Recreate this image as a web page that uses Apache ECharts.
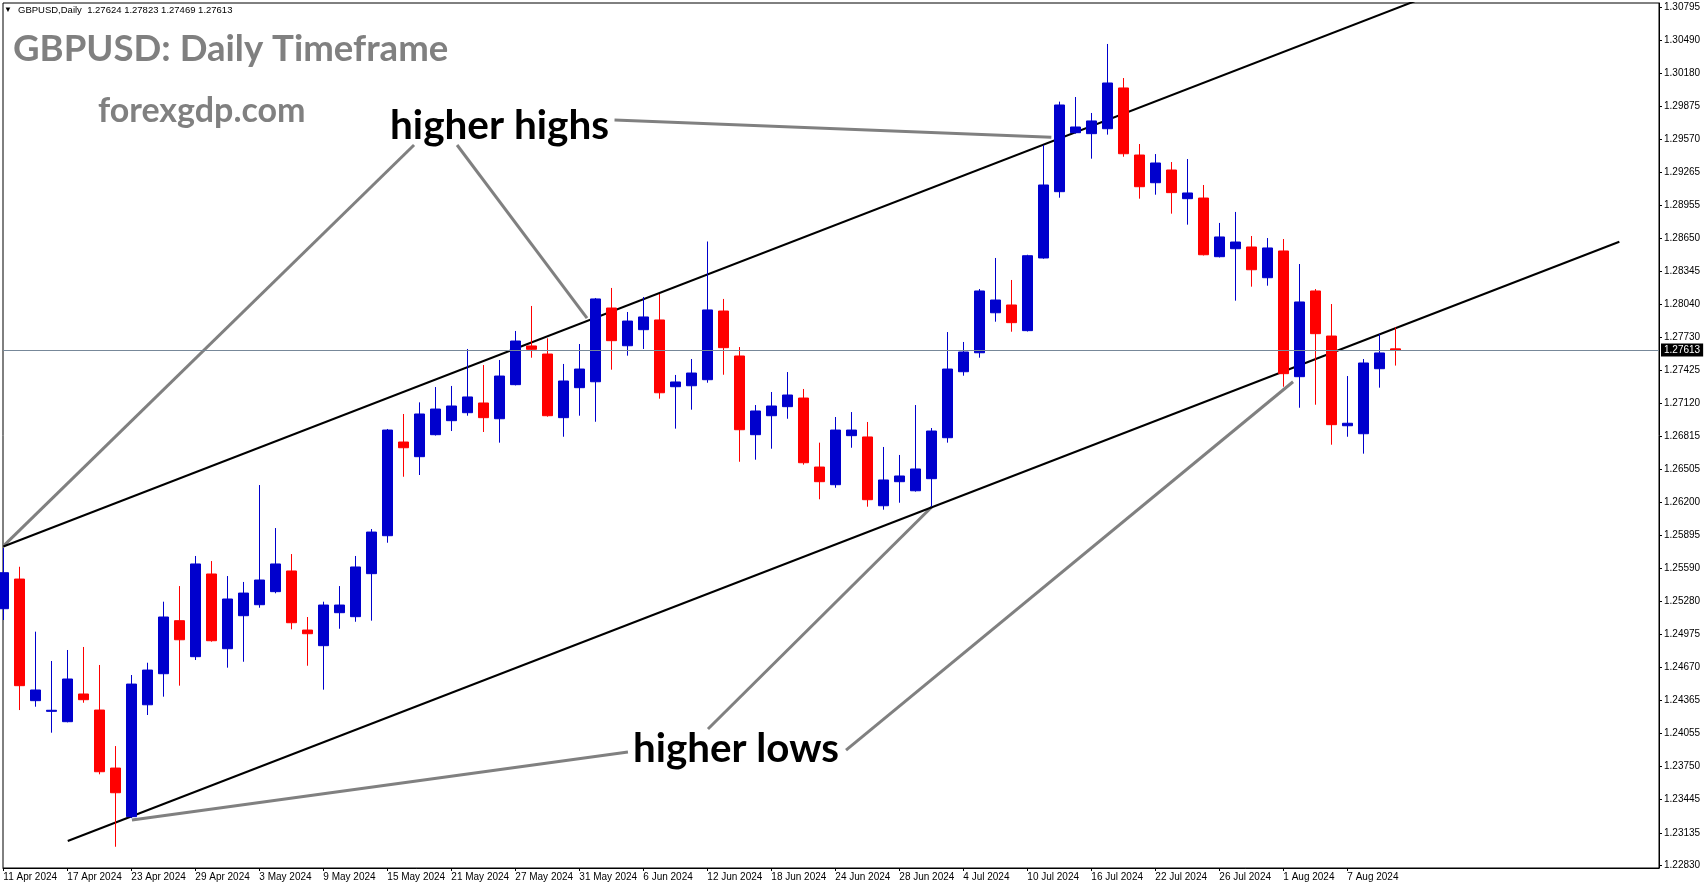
<!DOCTYPE html>
<html><head><meta charset="utf-8">
<script src="https://cdn.jsdelivr.net/npm/echarts@6/dist/echarts.min.js"></script>
<style>html,body{margin:0;padding:0;background:#fff;overflow:hidden}#chart{width:1705px;height:888px}</style>
</head><body><div id="chart"></div>
<script>
// ---- categories (trading days) ----
const dates = [
"11 Apr 2024","12 Apr 2024","15 Apr 2024","16 Apr 2024","17 Apr 2024","18 Apr 2024","19 Apr 2024","22 Apr 2024","23 Apr 2024","24 Apr 2024",
"25 Apr 2024","26 Apr 2024","29 Apr 2024","30 Apr 2024","1 May 2024","2 May 2024","3 May 2024","6 May 2024","7 May 2024","8 May 2024",
"9 May 2024","10 May 2024","13 May 2024","14 May 2024","15 May 2024","16 May 2024","17 May 2024","20 May 2024","21 May 2024","22 May 2024",
"23 May 2024","24 May 2024","27 May 2024","28 May 2024","29 May 2024","30 May 2024","31 May 2024","3 Jun 2024","4 Jun 2024","5 Jun 2024",
"6 Jun 2024","7 Jun 2024","10 Jun 2024","11 Jun 2024","12 Jun 2024","13 Jun 2024","14 Jun 2024","17 Jun 2024","18 Jun 2024","19 Jun 2024",
"20 Jun 2024","21 Jun 2024","24 Jun 2024","25 Jun 2024","26 Jun 2024","27 Jun 2024","28 Jun 2024","1 Jul 2024","2 Jul 2024","3 Jul 2024",
"4 Jul 2024","5 Jul 2024","8 Jul 2024","9 Jul 2024","10 Jul 2024","11 Jul 2024","12 Jul 2024","15 Jul 2024","16 Jul 2024","17 Jul 2024",
"18 Jul 2024","19 Jul 2024","22 Jul 2024","23 Jul 2024","24 Jul 2024","25 Jul 2024","26 Jul 2024","29 Jul 2024","30 Jul 2024","31 Jul 2024",
"1 Aug 2024","2 Aug 2024","5 Aug 2024","6 Aug 2024","7 Aug 2024","8 Aug 2024","9 Aug 2024","12 Aug 2024"];

// ---- OHLC values ----
const open = [
1.25214,1.25489,1.24361,1.24262,1.24166,1.24423,1.24274,1.23736,1.23285,1.24323,
1.24611,1.25103,1.24769,1.25536,1.24843,1.25149,1.25251,1.25372,1.25564,1.25016,
1.24871,1.25177,1.25140,1.25539,1.25891,1.26760,1.26624,1.26828,1.26958,1.27032,
1.27122,1.26976,1.27292,1.27651,1.27576,1.26986,1.27264,1.27319,1.28003,1.27653,
1.27802,1.27892,1.27273,1.27282,1.27338,1.27975,1.27558,1.26828,1.27004,1.27088,
1.27168,1.26528,1.26364,1.26819,1.26807,1.26169,1.26392,1.26308,1.26420,1.26800,
1.27412,1.27588,1.27959,1.28031,1.27793,1.28467,1.29082,1.29629,1.29620,1.29666,
1.30044,1.29422,1.29165,1.29283,1.29017,1.29023,1.28479,1.28553,1.28569,1.28284,
1.28532,1.27366,1.28161,1.27743,1.26911,1.26837,1.27440,1.27624];
const high = [
1.25777,1.25603,1.25001,1.24729,1.24831,1.24859,1.24692,1.23940,1.24599,1.24713,
1.25279,1.25424,1.25703,1.25656,1.25517,1.25462,1.26361,1.25962,1.25721,1.25137,
1.25279,1.25424,1.25703,1.25953,1.26881,1.27020,1.27128,1.27270,1.27280,1.27623,
1.27474,1.27521,1.27790,1.28022,1.27722,1.27484,1.27669,1.28096,1.28189,1.27966,
1.28105,1.28133,1.27382,1.27530,1.28620,1.28087,1.27641,1.27103,1.27224,1.27409,
1.27252,1.26754,1.26992,1.27038,1.26946,1.26714,1.26640,1.27103,1.26890,1.27780,
1.27688,1.28179,1.28467,1.28263,1.28497,1.29515,1.29917,1.29960,1.29812,1.30452,
1.30136,1.29524,1.29431,1.29357,1.29385,1.29144,1.28792,1.28894,1.28671,1.28652,
1.28643,1.28411,1.28179,1.28040,1.27372,1.27530,1.27762,1.27823];
const low = [
1.25109,1.24274,1.24305,1.24064,1.24160,1.24342,1.23678,1.23006,1.23272,1.24228,
1.24398,1.24500,1.24738,1.24908,1.24667,1.24722,1.25223,1.25357,1.25023,1.24685,
1.24463,1.25028,1.25093,1.25103,1.25826,1.26438,1.26454,1.26820,1.26862,1.27004,
1.26853,1.26754,1.27285,1.27542,1.26995,1.26809,1.27004,1.26948,1.27431,1.27561,
1.27623,1.27162,1.26884,1.27060,1.27310,1.27384,1.26577,1.26596,1.26698,1.26976,
1.26550,1.26229,1.26336,1.26707,1.26160,1.26132,1.26197,1.26300,1.26160,1.26754,
1.27375,1.27542,1.27876,1.27783,1.27785,1.28460,1.29026,1.29620,1.29388,1.29611,
1.29406,1.29017,1.29054,1.28878,1.28776,1.28490,1.28472,1.28071,1.28201,1.28210,
1.27273,1.27078,1.27106,1.26735,1.26809,1.26652,1.27264,1.27469];
const close = [
1.25548,1.24500,1.24460,1.24272,1.24562,1.24370,1.23702,1.23507,1.24515,1.24645,
1.25137,1.24926,1.25629,1.24917,1.25304,1.25359,1.25480,1.25629,1.25084,1.24982,
1.25248,1.25248,1.25601,1.25925,1.26871,1.26707,1.27020,1.27066,1.27094,1.27178,
1.26986,1.27372,1.27697,1.27620,1.27004,1.27326,1.27437,1.28087,1.27700,1.27882,
1.27920,1.27217,1.27317,1.27400,1.27985,1.27635,1.26874,1.27048,1.27094,1.27196,
1.26568,1.26392,1.26871,1.26871,1.26225,1.26408,1.26445,1.26510,1.26862,1.27437,
1.27595,1.28161,1.28077,1.27867,1.28488,1.29144,1.29886,1.29682,1.29738,1.30090,
1.29434,1.29128,1.29348,1.29073,1.29070,1.28497,1.28662,1.28615,1.28358,1.28560,
1.27394,1.28059,1.27765,1.26921,1.26934,1.27493,1.27586,1.27613];

// ---- axis ticks ----
const priceTicks = [1.30795,1.30490,1.30180,1.29875,1.29570,1.29265,1.28955,1.28650,1.28345,1.28040,
1.27730,1.27425,1.27120,1.26815,1.26505,1.26200,1.25895,1.25590,1.25280,1.24975,
1.24670,1.24365,1.24055,1.23750,1.23445,1.23135,1.22830];
const dateTickIdx = [0,4,8,12,16,20,24,28,32,36,40,44,48,52,56,60,64,68,72,76,80,84];
const lastPrice = 1.27613;

// ---- drawn lines, [barIndex, price] ----
const upperChannel = [[0, 1.25791], [88.2, 1.30848]];
const lowerChannel = [[4.025, 1.23059], [101.0, 1.28618]];
const hhLine1 = [[25.67, 1.29515], [0.0, 1.25795]];
const hhLine2 = [[28.36, 1.29515], [36.48, 1.27910]];
const hhLine3 = [[38.2, 1.29747], [65.5, 1.29587]];
const hlLine1 = [[44.04, 1.24098], [58.04, 1.26160]];
const hlLine2 = [[52.67, 1.23903], [80.61, 1.27319]];
const hlLine3 = [[39.04, 1.23885], [8.04, 1.23254]];

const candleData = open.map((o, i) => [i, o, close[i], low[i], high[i]]);

const FONT = "'Liberation Sans',Arial,sans-serif";
const BIG = "Lato,'Open Sans',sans-serif";

function seg(data, color, width) {
  return {type:'line', data:data, symbol:'none', showSymbol:false, silent:true, clip:true,
    lineStyle:{color:color, width:width}, emphasis:{disabled:true}, z:2};
}

const chart = echarts.init(document.getElementById('chart'));
chart.setOption({
  animation:false,
  backgroundColor:'#ffffff',
  grid:{left:3, right:46, top:3, bottom:20, show:true, borderColor:'#000', borderWidth:1, backgroundColor:'transparent'},
  xAxis:{type:'value', min:-0.02, max:103.48,
    axisLine:{show:true, onZero:false, lineStyle:{color:'#000', width:1}},
    axisTick:{show:true, customValues:dateTickIdx, length:3, lineStyle:{color:'#000'}},
    axisLabel:{customValues:dateTickIdx, formatter:v => dates[Math.round(v)] || '', align:'left', margin:4,
      color:'#000', fontSize:10, fontFamily:FONT},
    splitLine:{show:false}},
  yAxis:{type:'value', position:'right', min:1.22809, max:1.30832,
    axisLine:{show:true, onZero:false, lineStyle:{color:'#000', width:1}},
    axisTick:{show:true, customValues:priceTicks, length:3, lineStyle:{color:'#000'}},
    axisLabel:{customValues:priceTicks, formatter:v => v.toFixed(5), margin:5, color:'#000', fontSize:10, fontFamily:FONT},
    splitLine:{show:false}},
  series:[
    seg(hhLine1, '#808080', 3), seg(hhLine2, '#808080', 3), seg(hhLine3, '#808080', 3),
    seg(hlLine1, '#808080', 3), seg(hlLine2, '#808080', 3), seg(hlLine3, '#808080', 3),
    seg(upperChannel, '#000000', 2), seg(lowerChannel, '#000000', 2),
    {type:'line', data:[[0, lastPrice]], symbol:'none', showSymbol:false, silent:true, z:1,
      lineStyle:{opacity:0}, emphasis:{disabled:true},
      markLine:{silent:true, symbol:['none','none'], animation:false, precision:5,
        lineStyle:{color:'#778899', width:1, type:'solid'},
        label:{show:true, position:'end', distance:2, formatter:lastPrice.toFixed(5), color:'#fff',
          backgroundColor:'#000', padding:[2,3,1,3], fontSize:10, fontFamily:FONT},
        emphasis:{disabled:true},
        data:[{yAxis:lastPrice}]}},
    {type:'candlestick', data:candleData, encode:{x:0, y:[1,2,3,4]}, barWidth:10, silent:true, z:3,
      itemStyle:{color:'#0000CD', color0:'#FF0000', borderColor:'#0000CD', borderColor0:'#FF0000', borderWidth:1},
      emphasis:{disabled:true}}
  ],
  graphic:[
    {type:'text', x:4, y:10, style:{text:'▼', fill:'#000', font:'8px ' + FONT, align:'left', verticalAlign:'middle'}},
    {type:'text', x:18, y:10.5, style:{text:'GBPUSD,Daily  1.27624 1.27823 1.27469 1.27613', fill:'#000', font:'9.5px ' + FONT, align:'left', verticalAlign:'middle'}},
    {type:'text', x:13, y:49.5, style:{text:'GBPUSD: Daily Timeframe', fill:'#808080', font:'bold 36.6px ' + BIG, align:'left', verticalAlign:'middle'}},
    {type:'text', x:98, y:111.5, style:{text:'forexgdp.com', fill:'#808080', font:'bold 34px ' + BIG, align:'left', verticalAlign:'middle'}},
    {type:'text', x:390, y:125.5, style:{text:'higher highs', fill:'#000', font:'bold 40.5px ' + BIG, align:'left', verticalAlign:'middle'}},
    {type:'text', x:633, y:749, style:{text:'higher lows', fill:'#000', font:'bold 40.3px ' + BIG, align:'left', verticalAlign:'middle'}}
  ]
});
</script></body></html>
